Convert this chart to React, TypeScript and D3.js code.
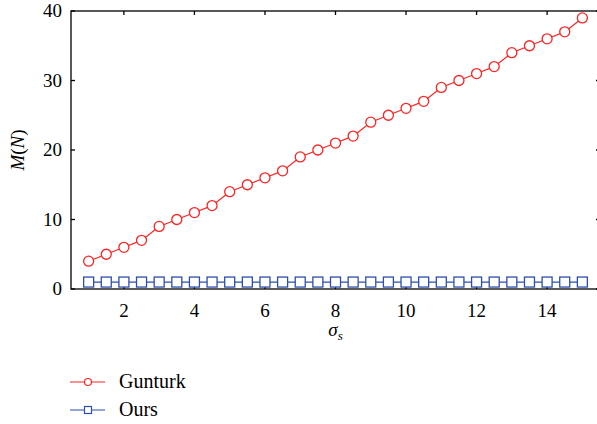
import React from 'react';
import * as d3 from 'd3';

const sigma = [1, 1.5, 2, 2.5, 3, 3.5, 4, 4.5, 5, 5.5, 6, 6.5, 7, 7.5, 8, 8.5, 9, 9.5, 10, 10.5, 11, 11.5, 12, 12.5, 13, 13.5, 14, 14.5, 15];
const gunturk = [4, 5, 6, 7, 9, 10, 11, 12, 14, 15, 16, 17, 19, 20, 21, 22, 24, 25, 26, 27, 29, 30, 31, 32, 34, 35, 36, 37, 39];
const ours = [1, 1, 1, 1, 1, 1, 1, 1, 1, 1, 1, 1, 1, 1, 1, 1, 1, 1, 1, 1, 1, 1, 1, 1, 1, 1, 1, 1, 1];
const xTicks = [2, 4, 6, 8, 10, 12, 14];
const yTicks = [0, 10, 20, 30, 40];

const RED = '#f22';
const BLUE = '#2b4fae';
const FONT = 'Times New Roman';

export default function App() {
  const W = 597, H = 424;
  const left = 71, top = 11, right = 600, bottom = 289;
  const x = d3.scaleLinear().domain([0.5, 15.5]).range([left, right]);
  const y = d3.scaleLinear().domain([0, 40]).range([bottom, top]);
  const line = d3.line<number>().x((_, i) => x(sigma[i])).y(d => y(d));
  const tk = 4;

  return (
    <div style={{ position: 'absolute', left: 0, top: 0, fontFamily: FONT }}>
      <svg width={W} height={H} style={{ display: 'block', fontFamily: FONT }}>
        <rect x={0} y={0} width={W} height={H} fill="#fff" />
        {/* frame */}
        <rect x={left} y={top} width={right - left} height={bottom - top} fill="none" stroke="#000" strokeWidth={1.3} />
        {xTicks.map(t => (
          <g key={'x' + t}>
            <line x1={x(t)} x2={x(t)} y1={bottom} y2={bottom - tk} stroke="#000" strokeWidth={1.3} />
            <line x1={x(t)} x2={x(t)} y1={top} y2={top + tk} stroke="#000" strokeWidth={1.3} />
            <text x={x(t)} y={bottom + 28} textAnchor="middle" fontSize={19}>{t}</text>
          </g>
        ))}
        {yTicks.map(t => (
          <g key={'y' + t}>
            <line x1={left} x2={left + tk} y1={y(t)} y2={y(t)} stroke="#000" strokeWidth={1.3} />
            <line x1={right} x2={right - tk} y1={y(t)} y2={y(t)} stroke="#000" strokeWidth={1.3} />
            <text x={left - 9} y={y(t) + 6} textAnchor="end" fontSize={19}>{t}</text>
          </g>
        ))}
        {/* axis labels */}
        <text x={(left + right) / 2} y={336} textAnchor="middle" fontSize={19} fontStyle="italic">
          σ<tspan fontSize={13} dy={4}>s</tspan>
        </text>
        <text transform={`translate(24,${(top + bottom) / 2}) rotate(-90)`} textAnchor="middle" fontSize={19}>
          <tspan fontStyle="italic">M</tspan>(<tspan fontStyle="italic">N</tspan>)
        </text>
        {/* series */}
        <path d={line(gunturk) || ''} fill="none" stroke={RED} strokeWidth={1.2} />
        {gunturk.map((v, i) => (
          <circle key={'g' + i} cx={x(sigma[i])} cy={y(v)} r={5} fill="#fff" stroke={RED} strokeWidth={1.3} />
        ))}
        <path d={line(ours) || ''} fill="none" stroke={BLUE} strokeWidth={1.2} />
        {ours.map((v, i) => (
          <rect key={'o' + i} x={x(sigma[i]) - 5} y={y(v) - 5} width={10} height={10} fill="#fff" stroke={BLUE} strokeWidth={1.3} />
        ))}
        {/* legend */}
        <g>
          <line x1={70} x2={105} y1={382} y2={382} stroke={RED} strokeWidth={1.2} />
          <circle cx={88} cy={382} r={3.5} fill="#fff" stroke={RED} strokeWidth={1.2} />
          <text x={119} y={388} fontSize={20}>Gunturk</text>
          <line x1={70} x2={105} y1={410} y2={410} stroke={BLUE} strokeWidth={1.2} />
          <rect x={84.5} y={406.5} width={7} height={7} fill="#fff" stroke={BLUE} strokeWidth={1.2} />
          <text x={119} y={416} fontSize={20}>Ours</text>
        </g>
      </svg>
    </div>
  );
}
